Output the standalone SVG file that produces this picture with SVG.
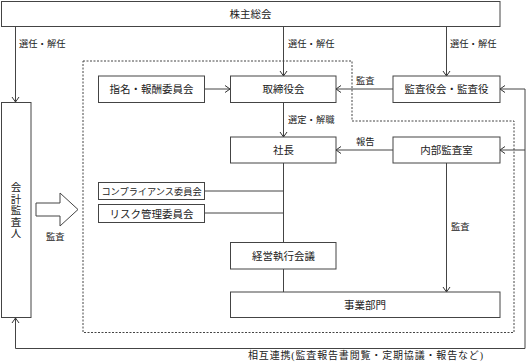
<svg xmlns="http://www.w3.org/2000/svg" width="526" height="363" viewBox="0 0 526 363">
<defs>
<marker id="arr" markerWidth="10" markerHeight="10" refX="8" refY="5" orient="auto" markerUnits="userSpaceOnUse">
<path d="M3,1.5 L8,5 L3,8.5" fill="none" stroke="#333" stroke-width="1"/>
</marker>
<style>
text{font-family:"Liberation Serif","Noto Sans CJK JP",serif;fill:#222;}
.box{fill:#fff;stroke:#444;stroke-width:1;}
.t{font-size:10.5px;text-anchor:middle;dominant-baseline:central;}
.l{font-size:9.3px;}
.c line,.c path,.c polyline{fill:none;stroke:#444;stroke-width:1;}
.dash{fill:none;stroke:#444;stroke-width:1;stroke-dasharray:2,1.5;}
</style>
</defs>
<rect width="526" height="363" fill="#fff"/>
<path class="dash" d="M83,61 H352 V121 H514 V332.5 H83 Z"/>
<g class="c" id="connectors">
<line x1="15.5" y1="26" x2="15.5" y2="102" marker-end="url(#arr)"/>
<line x1="283.5" y1="26" x2="283.5" y2="76" marker-end="url(#arr)"/>
<line x1="446.5" y1="26" x2="446.5" y2="76" marker-end="url(#arr)"/>
<line x1="205" y1="89" x2="230" y2="89" marker-end="url(#arr)"/>
<line x1="393" y1="89" x2="336" y2="89" marker-end="url(#arr)"/>
<line x1="283.5" y1="102.5" x2="283.5" y2="137" marker-end="url(#arr)"/>
<line x1="393" y1="150" x2="336" y2="150" marker-end="url(#arr)"/>
<line x1="283.5" y1="163" x2="283.5" y2="292"/>
<line x1="204.5" y1="191" x2="283.5" y2="191"/>
<line x1="204.5" y1="213" x2="283.5" y2="213"/>
<line x1="446.5" y1="163" x2="446.5" y2="292" marker-end="url(#arr)"/>
<polyline points="525,89 525,348.5 15.5,348.5 15.5,318" marker-end="url(#arr)"/>
<line x1="525" y1="89" x2="500" y2="89" marker-end="url(#arr)"/>
<line x1="525" y1="150" x2="500" y2="150" marker-end="url(#arr)"/>
<polygon points="36,203 60,203 60,193 78,209.5 60,226 60,216 36,216" fill="#fff" stroke="#444" stroke-width="1"/>
</g>
<g id="labels">
<text class="l" x="19" y="47">選任・解任</text>
<text class="l" x="288" y="47">選任・解任</text>
<text class="l" x="450" y="47">選任・解任</text>
<text class="l" x="356" y="84">監査</text>
<text class="l" x="288" y="123">選定・解職</text>
<text class="l" x="356" y="145">報告</text>
<text class="l" x="451" y="230">監査</text>
<text class="l" x="46" y="240">監査</text>
<text style="font-size:10px" x="248" y="359" textLength="235" lengthAdjust="spacing">相互連携(監査報告書閲覧・定期協議・報告など)</text>
</g>
<g id="n-shareholders"><rect class="box" x="1.5" y="1.5" width="498.5" height="25"/><text class="t" x="250.5" y="14">株主総会</text></g>
<g id="n-auditor"><rect class="box" x="1.5" y="102.5" width="29.5" height="215"/>
<text style="font-size:10.5px" text-anchor="middle"><tspan x="16" y="191">会</tspan><tspan x="16" y="202.5">計</tspan><tspan x="16" y="214">監</tspan><tspan x="16" y="225.5">査</tspan><tspan x="16" y="237">人</tspan></text></g>
<g id="n-nomination"><rect class="box" x="98.5" y="76" width="106" height="26.5"/><text class="t" x="151.5" y="89.5">指名・報酬委員会</text></g>
<g id="n-board"><rect class="box" x="230.5" y="76" width="105.5" height="26.5"/><text class="t" x="283.5" y="89.5">取締役会</text></g>
<g id="n-kansayaku"><rect class="box" x="393" y="76" width="107" height="26.5"/><text class="t" x="446.5" y="89.5">監査役会・監査役</text></g>
<g id="n-president"><rect class="box" x="230.5" y="137" width="105.5" height="26"/><text class="t" x="283.5" y="150.5">社長</text></g>
<g id="n-internal"><rect class="box" x="393" y="137" width="107" height="26"/><text class="t" x="446.5" y="150.5">内部監査室</text></g>
<g id="n-compliance"><rect class="box" x="98.5" y="182.5" width="106" height="17"/><text class="t" style="font-size:9.2px" x="151.5" y="191.5">コンプライアンス委員会</text></g>
<g id="n-risk"><rect class="box" x="98.5" y="204.5" width="106" height="18"/><text class="t" x="151.5" y="214">リスク管理委員会</text></g>
<g id="n-exec"><rect class="box" x="230.5" y="242.5" width="105.5" height="26.5"/><text class="t" x="283.5" y="256">経営執行会議</text></g>
<g id="n-business"><rect class="box" x="230.5" y="292" width="269.5" height="25.5"/><text class="t" x="365" y="305">事業部門</text></g>
</svg>
